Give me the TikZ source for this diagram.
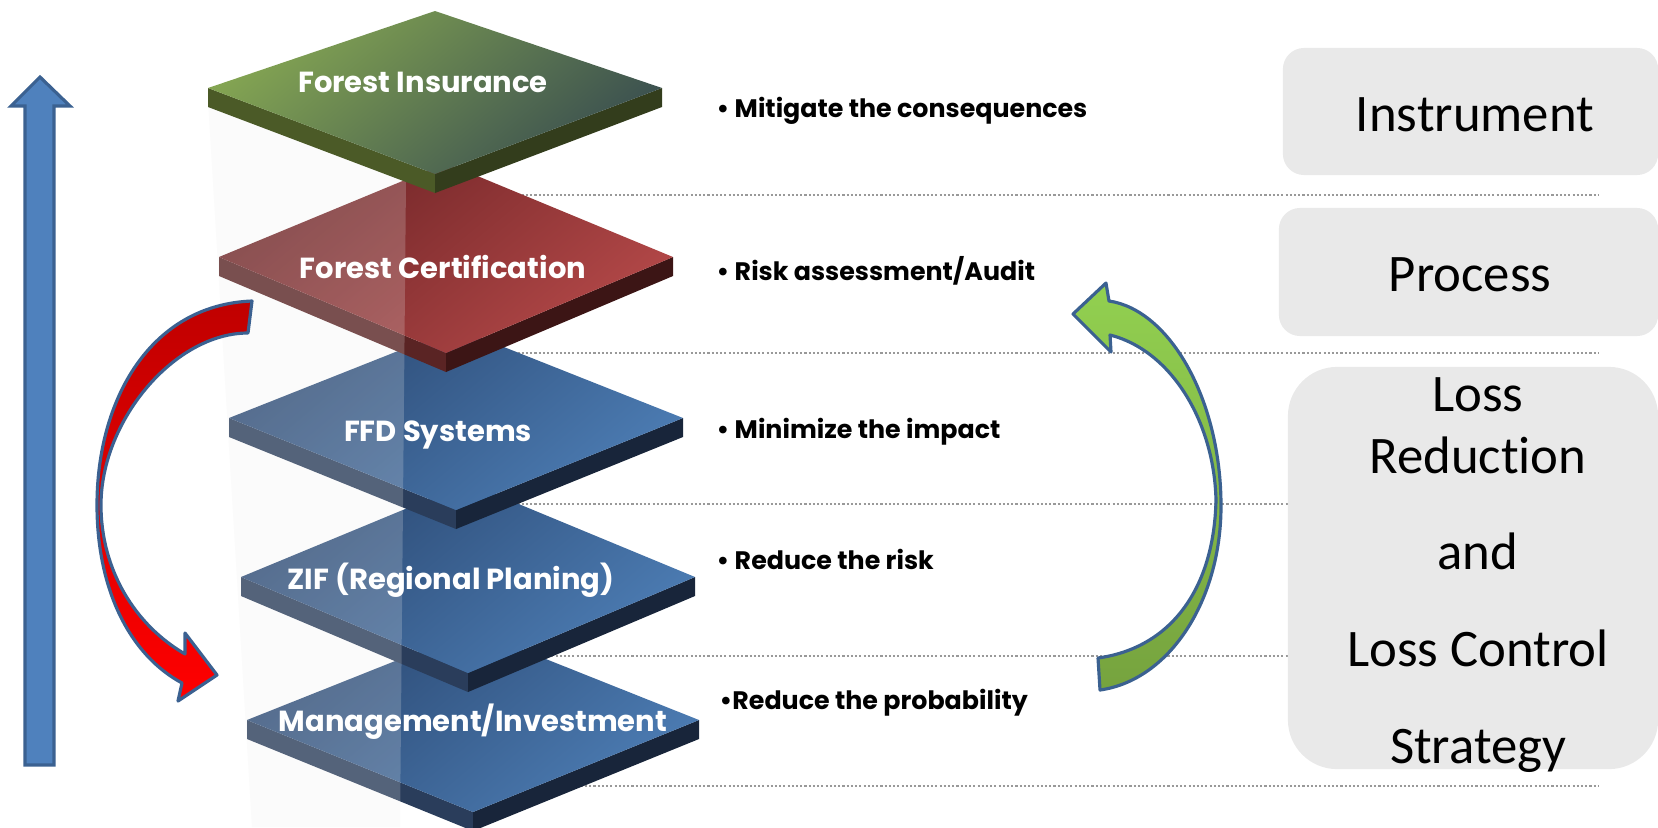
\documentclass[tikz,border=0pt]{standalone}
\usepackage{fontspec}
\setmainfont{Carlito}[Ligatures=NoCommon]
\newfontfamily\labelfont{Poppins}
\usepackage{tikz}

\definecolor{stackblue}{HTML}{4F81BD}
\definecolor{edgeblue}{HTML}{3B6191}
\definecolor{boxgray}{HTML}{E9E9E9}
\definecolor{columngray}{HTML}{EBEBEB}
\definecolor{insgreenA}{HTML}{84A552}
\definecolor{insgreenB}{HTML}{3B5050}
\definecolor{greenleft}{HTML}{4B5A27}
\definecolor{greenright}{HTML}{333D1C}
\definecolor{certredA}{HTML}{6E2426}
\definecolor{certredB}{HTML}{B34848}
\definecolor{redleft}{HTML}{5A2424}
\definecolor{redright}{HTML}{3C1515}
\definecolor{lossblueA}{HTML}{2C4A74}
\definecolor{lossblueB}{HTML}{4C7CB3}
\definecolor{blueleft}{HTML}{2A3D5B}
\definecolor{blueright}{HTML}{18253A}
\definecolor{arrowredA}{HTML}{C00000}
\definecolor{arrowredB}{HTML}{FF0000}
\definecolor{arrowgreenA}{HTML}{92D050}
\definecolor{arrowgreenB}{HTML}{76A33E}

% one layer of the stack: centre x, side-vertex y, half width,
% upper half height, lower half height, top shading, side colours
\newcommand{\slab}[8]{%
  \fill[#7] (#1-#3,#2) -- (#1,#2+#5) -- (#1,#2+#5+19) -- (#1-#3,#2+19) -- cycle;
  \fill[#8] (#1+#3,#2) -- (#1,#2+#5) -- (#1,#2+#5+19) -- (#1+#3,#2+19) -- cycle;
  \shade[#6] (#1-#3,#2) -- (#1,#2-#4) -- (#1+#3,#2) -- (#1,#2+#5) -- cycle;
}

\begin{document}
\begin{tikzpicture}[
  x=0.01cm, y=-0.01cm,
  slabtext/.style={font=\labelfont\bfseries\fontsize{8.25}{10}\selectfont, text=white},
  bullet/.style={font=\labelfont\bfseries\fontsize{7.2}{9}\selectfont, anchor=west, inner sep=0pt},
  sidebox/.style={
    fill=boxgray,
    rounded corners=6pt,
    inner sep=0pt
  },
  sidetext/.style={align=center, font=\fontsize{15}{17.6}\selectfont},
  guide/.style={draw=gray!80, line width=0.3pt, dash pattern=on 0.6pt off 0.6pt},
  bentarrow/.style={draw=edgeblue, line width=0.9pt, line join=round},
  greentop/.style={top color=insgreenA, bottom color=insgreenB, shading angle=40},
  redtop/.style={top color=certredA, bottom color=certredB, shading angle=40},
  bluetop/.style={top color=lossblueA, bottom color=lossblueB, shading angle=40}
]

\useasboundingbox (0,0) rectangle (1658,827);

% Dotted separators behind the stack
\draw[guide] (450,195) -- (1598,195);
\draw[guide] (450,353) -- (1598,353);
\draw[guide] (450,504) -- (1598,504);
\draw[guide] (450,656) -- (1598,656);
\draw[guide] (450,786) -- (1598,786);

% Category boxes on the right
\node[sidebox, minimum width=3.75cm, minimum height=1.27cm] (instrument) at (1470.5,111.5) {};
\node[sidetext] (instrumenttext) at (1475,115) {Instrument};

\node[sidebox, minimum width=3.79cm, minimum height=1.28cm] (process) at (1468.5,272) {};
\node[sidetext] (processtext) at (1470,275) {Process};

\node[sidebox, rounded corners=14pt, minimum width=3.70cm, minimum height=4.02cm] (strategy) at (1473,568) {};
\node[sidetext] (strategytext) at (1478,575)
{Loss\\Reduction\\[9.9pt]and\\[9.9pt]Loss Control\\[9.9pt]Strategy};

% The stack, bottom layer first
\slab{473}{720}{226}{90}{92}{bluetop}{blueleft}{blueright}
\slab{468}{577}{227}{94}{96}{bluetop}{blueleft}{blueright}
\slab{456}{418}{227}{90}{92}{bluetop}{blueleft}{blueright}
\slab{446}{257}{227}{94}{96}{redtop}{redleft}{redright}

% glass column in front of the lower layers
\fill[columngray, fill opacity=0.22] (208,100) -- (406,180) -- (400,827) -- (252,827) -- cycle;

\slab{435}{88}{227}{77}{86}{greentop}{greenleft}{greenright}

% Layer labels
\node[slabtext] (insurance) at (423,82) {Forest Insurance};
\node[slabtext] (certification) at (443,267) {Forest Certification};
\node[slabtext] (ffd) at (438,435) {FFD Systems};
\node[slabtext] (zif) at (451,580) {ZIF (Regional Planing)};
\node[slabtext] (management) at (473,722) {Management/Investment};

% Bullets
\node[bullet] (mitigate) at (716,111) {• Mitigate the consequences};
\node[bullet] (audit) at (716,271) {• Risk assessment/Audit};
\node[bullet] (impact) at (716,432) {• Minimize the impact};
\node[bullet] (risk) at (716,559) {• Reduce the risk};
\node[bullet] (probability) at (719,703) {•Reduce the probability};

% Upward arrow on the left
\draw[bentarrow, fill=stackblue, line join=miter]
  (40,77) -- (70,106) -- (54,106) -- (54,765) -- (25,765) -- (25,106) -- (11,106) -- cycle;

% Curved red arrow, top down
\draw[bentarrow, top color=arrowredA, bottom color=arrowredB]
  (252,301) .. controls (150,305) and (97,400) .. (97,505)
  .. controls (97,590) and (130,655) .. (182,683)
  -- (178,701) -- (217,675) -- (185,633) -- (185,654)
  .. controls (135,625) and (101,570) .. (101,505)
  .. controls (101,420) and (175,333) .. (248,333) -- cycle;

% Curved green arrow, bottom up
\draw[bentarrow, top color=arrowgreenA, bottom color=arrowgreenB]
  (1098,658) .. controls (1170,648) and (1214,590) .. (1216,500)
  .. controls (1214,420) and (1170,350) .. (1110,335)
  -- (1111,352) -- (1073,314) -- (1106,283) -- (1109,301)
  .. controls (1170,310) and (1221,400) .. (1221,506)
  .. controls (1221,600) and (1170,680) .. (1100,690) -- cycle;

\end{tikzpicture}
\end{document}
